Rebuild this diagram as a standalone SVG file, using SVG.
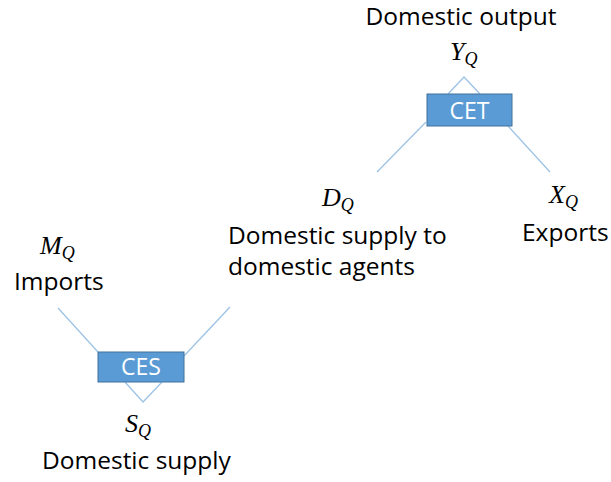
<svg xmlns="http://www.w3.org/2000/svg" width="611" height="482" viewBox="0 0 611 482">
<style>
.lbl{font-family:"Open Sans","Liberation Sans",sans-serif;font-size:24.5px;fill:#000}
.math{font-family:"Liberation Serif","DejaVu Serif",serif;font-style:italic;font-size:26px;fill:#000}
.sub{font-size:18px}
.box{fill:#5B9BD5;stroke:#41719C;stroke-width:1}
.btxt{font-family:"Open Sans","Liberation Sans",sans-serif;font-size:23px;fill:#fff;text-anchor:middle}
.ln{stroke:#9DC3E6;stroke-width:1.3;fill:none}
</style>
<rect width="611" height="482" fill="#fff"/>
<g id="connectors">
<polyline class="ln" points="448,94 464,77 480,94"/>
<line class="ln" x1="426" y1="122" x2="377" y2="172"/>
<line class="ln" x1="508" y1="126" x2="550" y2="172"/>
<line class="ln" x1="58" y1="308" x2="98" y2="352"/>
<line class="ln" x1="184" y1="356" x2="230" y2="307"/>
<polyline class="ln" points="125,382 143,402 162,382"/>
</g>
<g id="yq">
<text class="lbl" x="461" y="25" text-anchor="middle">Domestic output</text>
<text class="math" x="450" y="60">Y<tspan class="sub" dy="5">Q</tspan></text>
</g>
<g id="cet">
<rect class="box" x="427" y="94" width="85" height="32"/>
<text class="btxt" x="469.5" y="119">CET</text>
</g>
<g id="dq">
<text class="math" x="322" y="206">D<tspan class="sub" dy="5">Q</tspan></text>
<text class="lbl" x="228" y="244">Domestic supply to</text>
<text class="lbl" x="228" y="275">domestic agents</text>
</g>
<g id="xq">
<text class="math" x="549" y="203">X<tspan class="sub" dy="5">Q</tspan></text>
<text class="lbl" x="522" y="241">Exports</text>
</g>
<g id="mq">
<text class="math" x="40" y="254">M<tspan class="sub" dy="5">Q</tspan></text>
<text class="lbl" x="14" y="290">Imports</text>
</g>
<g id="ces">
<rect class="box" x="98" y="352" width="86" height="30"/>
<text class="btxt" x="141" y="375">CES</text>
</g>
<g id="sq">
<text class="math" x="125" y="432">S<tspan class="sub" dy="5">Q</tspan></text>
<text class="lbl" x="42" y="469">Domestic supply</text>
</g>
</svg>
